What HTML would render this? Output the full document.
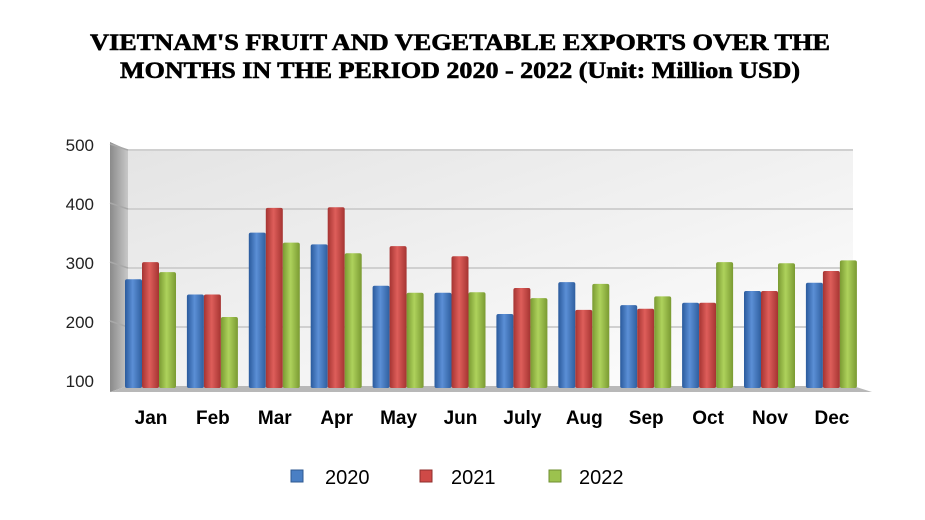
<!DOCTYPE html>
<html><head><meta charset="utf-8"><style>
body{margin:0;background:#fff;width:925px;height:520px;overflow:hidden}
svg{display:block}
</style></head><body>
<svg id="chart" width="925" height="520" xmlns="http://www.w3.org/2000/svg">
<defs>
<linearGradient id="wall" x1="0" y1="0" x2="1" y2="1"><stop offset="0" stop-color="#e4e4e4"/><stop offset="0.6" stop-color="#f4f4f4"/><stop offset="1" stop-color="#ffffff"/></linearGradient>
<linearGradient id="side" x1="0" y1="0" x2="1" y2="0"><stop offset="0" stop-color="#8a8a8a"/><stop offset="1" stop-color="#c8c8c8"/></linearGradient>
<linearGradient id="gb" x1="0" y1="0" x2="1" y2="0"><stop offset="0" stop-color="#2a5a9c"/><stop offset="0.45" stop-color="#5b8fd6"/><stop offset="1" stop-color="#2f5f9f"/></linearGradient>
<linearGradient id="gr" x1="0" y1="0" x2="1" y2="0"><stop offset="0" stop-color="#a53432"/><stop offset="0.45" stop-color="#de5e5a"/><stop offset="1" stop-color="#a53432"/></linearGradient>
<linearGradient id="gg" x1="0" y1="0" x2="1" y2="0"><stop offset="0" stop-color="#7a9a32"/><stop offset="0.45" stop-color="#aed25c"/><stop offset="1" stop-color="#7a9a32"/></linearGradient>
</defs>
<text x="90" y="50" textLength="740" lengthAdjust="spacingAndGlyphs" font-family="Liberation Serif, serif" font-weight="bold" font-size="23" stroke="#000" stroke-width="0.6">VIETNAM'S FRUIT AND VEGETABLE EXPORTS OVER THE</text>
<text x="120" y="78" textLength="680" lengthAdjust="spacingAndGlyphs" font-family="Liberation Serif, serif" font-weight="bold" font-size="23" stroke="#000" stroke-width="0.6">MONTHS IN THE PERIOD 2020 - 2022 (Unit: Million USD)</text>
<polygon points="128,150 853,150 853,386 128,386" fill="url(#wall)"/>
<polygon points="110,142 128,150 128,386 110,392" fill="url(#side)"/>
<polygon points="110,392 128,386 853,386 872,392" fill="#b8b8b8"/>
<g id="grid"></g>
<g id="bars"></g>
<g id="xlabels"></g>
<g id="legend">
<rect x="291" y="470" width="12" height="12" fill="#4a7fc4" stroke="#2f5a92"/>
<text x="325" y="484" font-family="Liberation Sans, sans-serif" font-size="20">2020</text>
<rect x="420" y="470" width="12" height="12" fill="#cf4a47" stroke="#8f2f2d"/>
<text x="451" y="484" font-family="Liberation Sans, sans-serif" font-size="20">2021</text>
<rect x="549" y="470" width="12" height="12" fill="#9cc24e" stroke="#6f8f32"/>
<text x="579" y="484" font-family="Liberation Sans, sans-serif" font-size="20">2022</text>
</g>
</svg>
<script>
const categories=["Jan","Feb","Mar","Apr","May","Jun","July","Aug","Sep","Oct","Nov","Dec"];
const values2020=[281,255,360,340,270,258,222,276,237,241,261,275];
const values2021=[310,255,402,403,337,320,266,229,231,241,261,295];
const values2022=[293,217,343,325,258,259,249,273,252,310,308,313];
const yTicks=[100,200,300,400,500];
const NS="http://www.w3.org/2000/svg";
function y(v){return 386-(v-100)*0.59;}
function x(i){return 151+i*61.9;}
function mk(tag,attrs,parent){const e=document.createElementNS(NS,tag);for(const k in attrs)e.setAttribute(k,attrs[k]);parent.appendChild(e);return e;}
const grid=document.getElementById('grid');
yTicks.forEach(t=>{
  if(t>100){const l=mk('line',{x1:128,x2:853,y1:y(t),y2:y(t),stroke:'#d0d0d0','stroke-width':2},grid);
  
  
  const s=mk('line',{x1:110,x2:128,y1:y(t)-6,y2:y(t),stroke:'#a8a8a8','stroke-width':1.5},grid);
  
  }
  const tx=mk('text',{x:94,y:y(t)+1,'text-anchor':'end','font-family':'Liberation Sans, sans-serif','font-size':17,fill:'#222'},grid);
  tx.textContent=t;
  
  
});
const bars=document.getElementById('bars');
const series=[[values2020,'url(#gb)','2020',-26],[values2021,'url(#gr)','2021',-9],[values2022,'url(#gg)','2022',8]];
categories.forEach((c,i)=>{
  series.forEach(s=>{
    const v=s[0][i];const bx=x(i)+s[3];const top=y(v);
    const r=mk('rect',{x:bx,y:top,width:17,height:388-top,fill:s[1],rx:2},bars);
    
    
  });
  const t=mk('text',{x:x(i),y:424,'text-anchor':'middle','font-family':'Liberation Sans, sans-serif','font-weight':'bold','font-size':19},document.getElementById('xlabels'));
  t.textContent=c;
  
  
});
</script>
</body></html>
